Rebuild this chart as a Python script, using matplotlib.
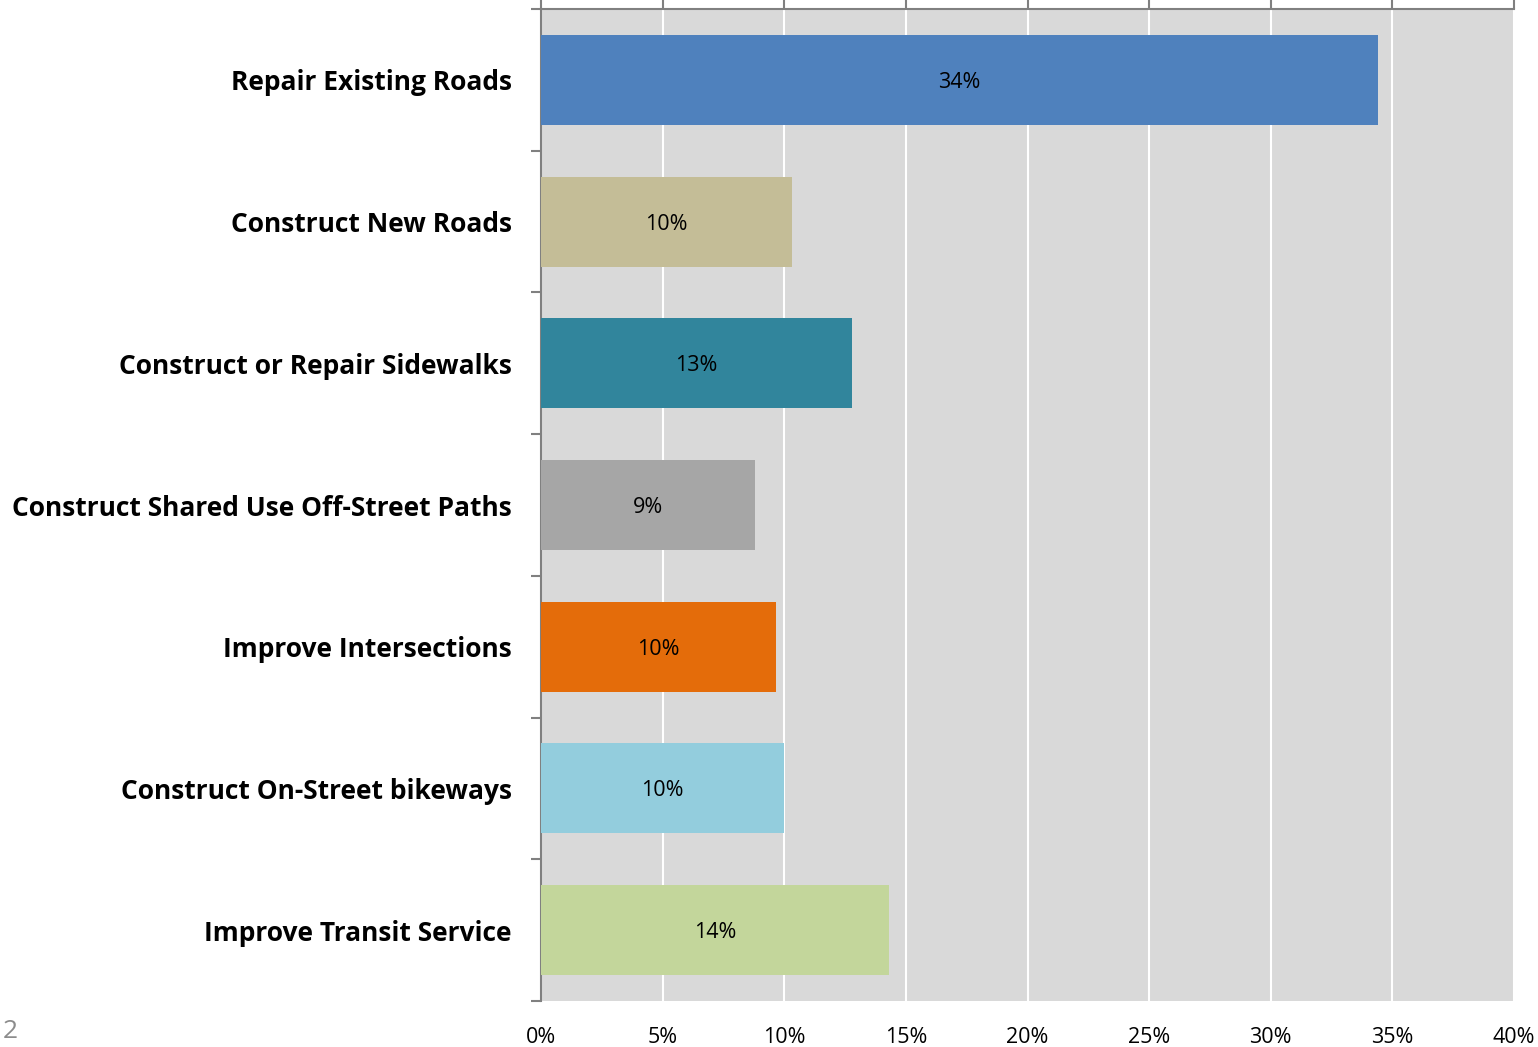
import matplotlib
matplotlib.use("Agg")
import matplotlib.pyplot as plt

categories = ["Repair Existing Roads", "Construct New Roads", "Construct or Repair Sidewalks",
              "Construct Shared Use Off-Street Paths", "Improve Intersections",
              "Construct On-Street bikeways", "Improve Transit Service"]
values = [34.4, 10.3, 12.8, 8.8, 9.65, 10.0, 14.3]
labels = ["34%", "10%", "13%", "9%", "10%", "10%", "14%"]
colors = ["#4F81BD", "#C4BD97", "#31859C", "#A6A6A6", "#E46C0A", "#93CDDD", "#C3D69B"]
xticks = [0, 5, 10, 15, 20, 25, 30, 35, 40]

plt.rcParams['font.family'] = ['Open Sans', 'DejaVu Sans']

fig = plt.figure(figsize=(15.38, 10.47), dpi=100)
ax = fig.add_axes([541/1538, 1 - 1001/1047, (1514-541)/1538, (1001-9)/1047])
ax.set_facecolor("#D9D9D9")

n = len(categories)
ypos = list(range(n))
ax.barh(ypos, values, height=0.635, color=colors, zorder=3)
for y, v, lab in zip(ypos, values, labels):
    ax.text(v/2, y, lab, ha="center", va="center_baseline", fontsize=15.5, color="black", zorder=4)

ax.set_xlim(0, 40)
ax.set_ylim(n - 0.5, -0.5)
ax.set_xticks(xticks)
ax.set_xticklabels([f"{t}%" for t in xticks], fontsize=15.5)
ax.grid(axis="x", color="white", linewidth=1.5, zorder=1)
ax.tick_params(axis="x", top=True, bottom=False, labeltop=False, labelbottom=True,
               direction="out", length=7, color="#808080", width=1.5, pad=12)

ax.set_yticks(ypos)
ax.set_yticklabels(categories, fontsize=19, fontweight="bold")
ax.set_yticks([i - 0.5 for i in range(n + 1)], minor=True)
ax.tick_params(axis="y", which="major", length=0, pad=21)
ax.tick_params(axis="y", which="minor", length=7, color="#808080", width=1.5, direction="out")

for s in ["right", "bottom"]:
    ax.spines[s].set_visible(False)
for s in ["top", "left"]:
    ax.spines[s].set_color("#808080")
    ax.spines[s].set_linewidth(1.5)

fig.text(3/1538, 1 - 1031/1047, "2", fontsize=19, color="#8C8C8C", ha="left", va="center")

fig.savefig("out.png", dpi=100)
